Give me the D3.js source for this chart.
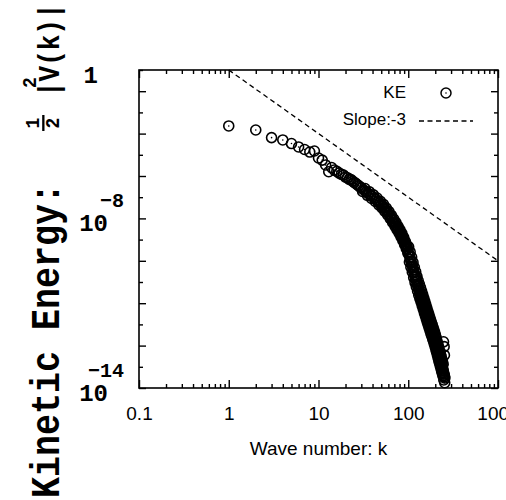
<!DOCTYPE html>
<html>
<head>
<meta charset="utf-8">
<script src="https://cdn.jsdelivr.net/npm/d3@7/dist/d3.min.js"></script>
<style>body{margin:0;background:#fff}</style>
</head>
<body>
<div class="box"></div>
<script>
// wave numbers and kinetic energy (log10 of 1/2|V(k)|^2)
const kVals=[1,2,3,4,5,6,7,8,9,10,11,12,13,14,15,16,17,18,19,20,21,22,23,24,25,26,27,28,29,30,
  31,32,33,34,35,36,37,38,39,40,41,42,43,44,45,46,47,48,49,50,51,52,53,54,55,56,57,58,59,60,
  61,62,63,64,65,66,67,68,69,70,71,72,73,74,75,76,77,78,79,80,81,82,83,84,85,86,87,88,89,90,
  91,92,93,94,95,96,97,98,99,100,
  102,104,106,108,110,112,114,116,118,120,122,124,126,128,130,132,134,136,138,140,
  142,144,146,148,150,152,154,156,158,160,162,164,166,168,170,172,174,176,178,180,
  182,184,186,188,190,192,194,196,198,200,202,204,206,208,210,212,214,216,218,220,
  222,224,226,228,230,232,234,236,238,240,242,244,246,248,250,252,254,256,
  101,103,105,107,109,111,113,115,117,119,121,123,125,127,129,131,133,135,137,139,
  141,143,145,147,149,151,153,155,157,159,161,163,165,167,169,171,173,175,177,179,
  181,183,185,187,189,191,193,195,197,199,201,203,205,207,209,211,213,215,217,219,
  221,223,225,227,229,231,233,235,237,239,241,243,245,
  247,249,251,253,255];
const keExp=[-2.64,-2.83,-3.19,-3.30,-3.47,-3.63,-3.75,-3.87,-3.82,-4.15,-4.25,-4.48,-4.80,-4.60,-4.72,-4.78,-4.86,-4.92,-4.96,-5.05,
  -5.08,-5.16,-5.17,-5.24,-5.30,-5.35,-5.41,-5.46,-5.51,-5.56,
  -5.73,-5.66,-5.59,-5.75,-5.91,-5.83,-5.75,-5.90,-6.06,-5.97,-5.89,-6.04,-6.20,-6.12,-6.04,-6.20,-6.36,-6.27,-6.19,-6.34,
  -6.50,-6.42,-6.34,-6.50,-6.67,-6.59,-6.51,-6.67,-6.84,-6.76,-6.68,-6.84,-7.01,-6.93,-6.86,-7.02,-7.19,-7.11,-7.03,-7.19,
  -7.36,-7.28,-7.20,-7.36,-7.53,-7.45,-7.37,-7.53,-7.70,-7.62,-7.54,-7.70,-7.87,-7.79,-7.71,-7.88,-8.04,-7.97,-7.89,-8.06,
  -8.23,-8.16,-8.09,-8.26,-8.42,-8.35,-8.28,-8.46,-8.64,-8.58,
  -8.70,-8.82,-8.94,-9.06,-9.18,-9.30,-9.43,-9.55,-9.67,-9.77,-9.87,-9.97,-10.08,-10.18,-10.28,-10.37,-10.45,-10.53,-10.61,-10.69,
  -10.78,-10.86,-10.94,-11.02,-11.10,-11.17,-11.25,-11.33,-11.41,-11.48,-11.56,-11.63,-11.70,-11.76,-11.83,-11.90,-11.97,-12.03,-12.10,-12.17,
  -12.23,-12.29,-12.35,-12.41,-12.47,-12.53,-12.59,-12.65,-12.71,-12.77,-12.84,-12.91,-12.97,-13.04,-13.11,-13.17,-13.24,-13.31,-13.37,-13.44,
  -13.50,-13.56,-13.62,-13.68,-13.74,-13.80,-13.86,-13.92,-13.98,-14.03,-14.09,-14.15,-14.21,-14.28,-14.34,-14.40,-14.46,-14.53,
  -8.34,-9.06,-8.58,-9.30,-8.82,-9.54,-9.07,-9.79,-9.31,-10.02,-9.52,-10.22,-9.73,-10.43,-9.93,-10.63,-10.11,-10.79,-10.27,-10.95,
  -10.44,-11.12,-10.60,-11.28,-10.76,-11.44,-10.91,-11.59,-11.07,-11.75,-11.22,-11.90,-11.37,-12.03,-11.50,-12.17,-11.64,-12.30,-11.77,-12.44,
  -11.90,-12.56,-12.02,-12.68,-12.14,-12.80,-12.26,-12.92,-12.38,-13.04,-12.51,-13.18,-12.64,-13.31,-12.78,-13.44,-12.91,-13.58,-13.04,-13.71,
  -13.17,-13.83,-13.29,-13.95,-13.41,-14.07,-13.53,-14.19,-13.65,-14.31,-13.76,-14.42,-13.88,
  -12.82,-14.62,-13.05,-13.45,-14.75];
// slope -3 reference line
const slopeK=[1,1000];
const slopeE=[1,1e-9];
// axis ticks and labels
const xTicks=[0.1,1,10,100,1000];
const xTickLabels=['0.1','1','10','100','1000'];
const yLabelVals=[1,1e-7,1e-15];
const yLabelBase=['1','10','10'];
const yLabelExp=['','\u22128','\u221214'];
const legendNames=['KE','Slope:-3'];

const W=506,H=500;
const margin={top:70,right:8,bottom:112,left:139};
const graphW=W-margin.left-margin.right;
const graphH=H-margin.top-margin.bottom;
const sans='"Liberation Sans", Arial, sans-serif';
const mono='"Liberation Mono", "Courier New", monospace';

const svg=d3.select('.box').append('svg').attr('width',W).attr('height',H).style('background','white');
const g=svg.append('g').attr('transform',`translate(${margin.left},${margin.top})`);

const x=d3.scaleLog().domain([0.1,1000]).range([0,graphW]);
const y=d3.scaleLog().domain([1e-15,1]).range([graphH,0]);

const isDecade=t=>Math.abs(Math.log10(t)-Math.round(Math.log10(t)))<1e-6;
const xMinor=x.ticks().filter(t=>!isDecade(t));
const yAll=y.ticks(15);
const longY=d=>Math.abs(Math.round(Math.log10(d)))%2===1;

// x ticks, bottom and top, pointing inward
const gXb=g.append('g').attr('transform',`translate(0,${graphH})`);
gXb.append('g').call(d3.axisBottom(x).tickValues(xMinor).tickSize(-4).tickFormat(''));
gXb.append('g').call(d3.axisBottom(x).tickValues(xTicks).tickSize(-8).tickPadding(19).tickFormat((d,i)=>xTickLabels[i]));
const gXt=g.append('g');
gXt.append('g').call(d3.axisTop(x).tickValues(xMinor).tickSize(-4).tickFormat(''));
gXt.append('g').call(d3.axisTop(x).tickValues(xTicks).tickSize(-8).tickFormat(''));

// y ticks, left and right
const gYl=g.append('g').call(d3.axisLeft(y).tickValues(yAll).tickSize(-6).tickFormat(''));
gYl.selectAll('.tick line').attr('x2',d=>longY(d)?7:4);
const gYr=g.append('g').attr('transform',`translate(${graphW},0)`).call(d3.axisRight(y).tickValues(yAll).tickSize(-6).tickFormat(''));
gYr.selectAll('.tick line').attr('x2',d=>longY(d)?-7:-4);

g.selectAll('.domain').remove();
g.selectAll('.tick line').attr('stroke','#000').attr('stroke-width',1.4);
gXb.selectAll('text').style('font-family',sans).style('font-size','19px').attr('fill','#000');

g.append('rect').attr('width',graphW).attr('height',graphH)
  .attr('fill','none').attr('stroke','#000').attr('stroke-width',1.6);

// y tick labels
const yLab=svg.selectAll('.ylab').data(yLabelVals).enter().append('g')
  .attr('transform',d=>`translate(0,${margin.top+y(d)})`);
yLab.append('text').attr('x',(d,i)=>yLabelExp[i]?108:98).attr('y',13).attr('text-anchor','end')
  .style('font-family',mono).style('font-weight','bold').style('font-size','24px').text((d,i)=>yLabelBase[i]);
yLab.append('text').attr('x',124).attr('y',-11).attr('text-anchor','end')
  .style('font-family',mono).style('font-weight','bold').style('font-size','20px').text((d,i)=>yLabelExp[i]);

// slope -3 line
const line=d3.line().x(d=>x(d[0])).y(d=>y(d[1]));
g.append('path').datum(slopeK.map((k,i)=>[k,slopeE[i]])).attr('d',line)
  .attr('fill','none').attr('stroke','#000').attr('stroke-width',1.3).attr('stroke-dasharray','5,3.5');

// KE points
const pts=g.selectAll('.pt').data(kVals.map((k,i)=>[k,Math.pow(10,keExp[i])])).enter().append('g')
  .attr('transform',d=>`translate(${x(d[0])},${y(d[1])})`);
pts.append('circle').attr('r',5).attr('fill','none').attr('stroke','#000').attr('stroke-width',1.6);
pts.append('circle').attr('r',0.8).attr('fill','#000');

// legend
const leg=svg.append('g');
leg.selectAll('text').data(legendNames).enter().append('text')
  .attr('x',406).attr('y',(d,i)=>98+i*27).attr('text-anchor','end')
  .style('font-family',sans).style('font-size','17px').text(d=>d);
leg.append('circle').attr('cx',446).attr('cy',93).attr('r',5).attr('fill','none').attr('stroke','#000').attr('stroke-width',1.5);
leg.append('circle').attr('cx',446).attr('cy',93).attr('r',0.8).attr('fill','#000');
leg.append('line').attr('x1',419).attr('x2',473).attr('y1',121).attr('y2',121)
  .attr('stroke','#000').attr('stroke-width',1.3).attr('stroke-dasharray','5,3.5');

// x axis title
svg.append('text').attr('x',margin.left+x(10)).attr('y',455).attr('text-anchor','middle')
  .style('font-family',sans).style('font-size','19px').text('Wave number: k');

// y axis title, rotated
const yt=svg.append('g').attr('transform','translate(59,500) rotate(-90) scale(1,1.16)')
  .style('font-family',mono).style('font-weight','bold');
yt.append('text').attr('x',2).attr('y',0).style('font-size','35px').text('Kinetic Energy:');
yt.append('text').attr('x',377).attr('y',-17).attr('text-anchor','middle').style('font-size','18px').text('1');
yt.append('line').attr('x1',369).attr('x2',385).attr('y1',-13.5).attr('y2',-13.5).attr('stroke','#000').attr('stroke-width',2);
yt.append('text').attr('x',377).attr('y',0).attr('text-anchor','middle').style('font-size','18px').text('2');
yt.append('text').attr('x',403).attr('y',0).style('font-size','26px').text('|V(k)|');
yt.append('text').attr('x',412).attr('y',-20).style('font-size','18px').text('2');
</script>
</body>
</html>
